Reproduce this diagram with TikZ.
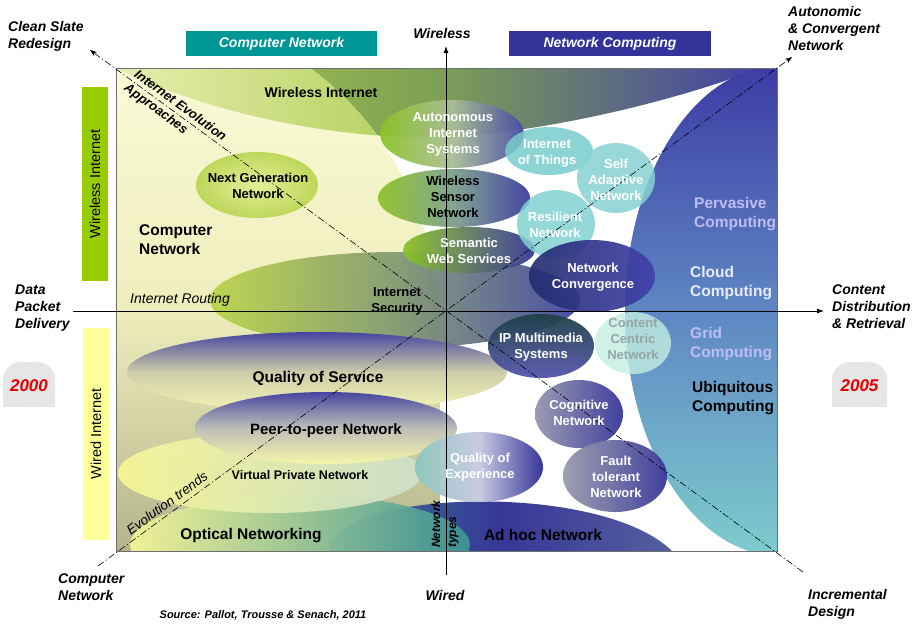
\documentclass[tikz,border=0pt]{standalone}
\usepackage{fontspec}
\setmainfont{Liberation Sans}
\usetikzlibrary{arrows.meta}
\definecolor{paleT}{RGB}{250,250,215}
\definecolor{paleM}{RGB}{238,238,188}
\definecolor{paleB}{RGB}{180,180,140}
\definecolor{bandL}{RGB}{175,205,75}
\definecolor{bandM}{RGB}{125,160,85}
\definecolor{bandR}{RGB}{65,65,165}
\definecolor{ltL}{RGB}{232,238,175}
\definecolor{ltR}{RGB}{175,205,85}
\definecolor{ubT}{RGB}{60,60,165}
\definecolor{ubM}{RGB}{95,135,195}
\definecolor{ubB}{RGB}{125,205,205}
\definecolor{gL}{RGB}{140,195,40}
\definecolor{bR}{RGB}{60,60,160}
\definecolor{tealb}{RGB}{120,205,205}
\definecolor{tealc}{RGB}{135,210,210}
\definecolor{teald}{RGB}{130,210,210}
\definecolor{mint}{RGB}{195,238,225}
\definecolor{cnteal}{RGB}{0,150,150}
\definecolor{ncblue}{RGB}{51,51,153}
\definecolor{wigreen}{RGB}{153,204,0}
\definecolor{wiyellow}{RGB}{255,255,153}
\definecolor{yrgrey}{RGB}{230,230,230}
\definecolor{yrred}{RGB}{230,0,0}
\definecolor{lav}{RGB}{190,190,245}
\definecolor{cloudc}{RGB}{232,236,252}
\definecolor{ccntxt}{RGB}{150,165,165}
\definecolor{framec}{RGB}{110,110,110}
\begin{document}
\begin{tikzpicture}[x=1pt,y=-1pt,
  axl/.style={font=\fontsize{14}{17}\selectfont\bfseries\itshape, align=left, inner sep=0pt},
  btx/.style={font=\fontsize{13}{16}\selectfont\bfseries, align=center, inner sep=0pt, text=white},
  bigt/.style={font=\fontsize{15.5}{18}\selectfont\bfseries, inner sep=0pt, anchor=base},
  rgt/.style={font=\fontsize{15.5}{19}\selectfont\bfseries, align=left, inner sep=0pt, anchor=north west},
  diagl/.style={black, line width=0.6pt, dash pattern=on 7pt off 2.5pt on 1.2pt off 2.5pt},
  axisl/.style={black, line width=0.8pt},
  tip/.style={-{Latex[length=7pt,width=5pt]}},
  dtip/.style={-{Stealth[length=7pt,width=5pt]}},
  topbox/.style={text=white, font=\fontsize{14}{16}\selectfont\bfseries\itshape, minimum height=25pt, inner sep=0pt},
  barbox/.style={rotate=90, font=\fontsize{14.5}{16}\selectfont, minimum height=26pt, inner sep=0pt},
  yr/.style={text=yrred, font=\fontsize{17}{19}\selectfont\bfseries\itshape, anchor=base}
]
\useasboundingbox (0,0) rectangle (919,625);
\fill[white] (0,0) rectangle (919,625);

% ---------- background regions ----------
\fill[white] (116,68) rectangle (777,551);
\begin{scope}
  \clip (310,68) .. controls (380,120) and (430,200) .. (440,311) -- (777,311) -- (777,68) -- cycle;
  \shade[left color=bandL, right color=bandR, middle color=bandM]
    (116,68) .. controls (200,110) and (330,140) .. (440,137) .. controls (540,134) and (680,100) .. (760,68) -- cycle;
\end{scope}
\shade[top color=paleT, bottom color=paleB, middle color=paleM]
  (116,68) -- (310,68) .. controls (380,120) and (430,200) .. (440,311) -- (440,551) -- (116,551) -- cycle;
\begin{scope}
  \clip (116,68) -- (310,68) .. controls (380,120) and (430,200) .. (440,311) -- (116,311) -- cycle;
  \shade[left color=ltL, right color=ltR, middle color=ltR]
    (116,68) .. controls (200,110) and (330,140) .. (440,137) .. controls (540,134) and (680,100) .. (760,68) -- cycle;
\end{scope}
\begin{scope}
  \clip (116,68) rectangle (777,551);
  \shade[top color=ubT, bottom color=ubB, middle color=ubM] (780,311) ellipse [x radius=155pt, y radius=245pt];
\end{scope}

% ---------- large ellipses ----------
\shade[left color={rgb,255:red,185;green,210;blue,70}, right color={rgb,255:red,55;green,60;blue,155}, middle color={rgb,255:red,125;green,150;blue,110}, opacity=0.9]
  (395,300) ellipse [x radius=185pt, y radius=48pt];
\shade[top color={rgb,255:red,70;green,70;blue,160}, bottom color={rgb,255:red,245;green,245;blue,180}, middle color={rgb,255:red,205;green,205;blue,170}]
  (317,372) ellipse [x radius=190pt, y radius=40pt];
\begin{scope}
  \clip (116,68) rectangle (777,551);
  \shade[left color={rgb,255:red,60;green,120;blue,150}, right color={rgb,255:red,85;green,95;blue,160}, middle color={rgb,255:red,55;green,55;blue,150}]
    (330,551) .. controls (330,490) and (600,480) .. (672,551) -- cycle;
  \shade[left color={rgb,255:red,245;green,245;blue,150}, right color={rgb,255:red,60;green,150;blue,150}, opacity=0.92]
    (300,545) ellipse [x radius=170pt, y radius=50pt];
\end{scope}
\shade[left color={rgb,255:red,248;green,248;blue,150}, right color={rgb,255:red,205;green,225;blue,205}, opacity=0.9]
  (270,473) ellipse [x radius=152pt, y radius=40pt];
\shade[top color={rgb,255:red,70;green,70;blue,160}, bottom color={rgb,255:red,245;green,245;blue,170}, middle color={rgb,255:red,190;green,190;blue,185}]
  (326,428) ellipse [x radius=131pt, y radius=36pt];
\shade[left color={rgb,255:red,140;green,200;blue,190}, right color={rgb,255:red,45;green,45;blue,150}, middle color={rgb,255:red,200;green,200;blue,225}, opacity=0.95]
  (479,467) ellipse [x radius=64pt, y radius=35pt];

% ---------- bubbles ----------
\shade[inner color={rgb,255:red,228;green,238;blue,150}, outer color={rgb,255:red,190;green,215;blue,90}]
  (257,185) ellipse [x radius=61pt, y radius=33pt];
\shade[left color=gL, right color={rgb,255:red,70;green,75;blue,165}, middle color={rgb,255:red,170;green,190;blue,150}, opacity=0.95]
  (452,134) ellipse [x radius=72pt, y radius=34pt];
\shade[left color=gL, right color=bR, middle color={rgb,255:red,125;green,160;blue,140}, opacity=0.95]
  (454,198) ellipse [x radius=76pt, y radius=29pt];
\shade[left color=gL, right color={rgb,255:red,55;green,55;blue,155}, opacity=0.95]
  (469,250) ellipse [x radius=66pt, y radius=23pt];
\fill[fill=tealb, opacity=0.85] (549,151) ellipse [x radius=44pt, y radius=24pt];
\fill[fill=tealc, opacity=0.85] (616,178) ellipse [x radius=39pt, y radius=35pt];
\fill[fill=teald, opacity=0.85] (556,224) ellipse [x radius=39pt, y radius=34pt];
\shade[left color={rgb,255:red,35;green,45;blue,110}, right color={rgb,255:red,65;green,65;blue,170}, opacity=0.92]
  (592,276) ellipse [x radius=63pt, y radius=36pt];
\shade[top color={rgb,255:red,30;green,65;blue,70}, bottom color={rgb,255:red,85;green,85;blue,175}, opacity=0.95]
  (541,346) ellipse [x radius=53pt, y radius=32pt];
\fill[fill=mint, opacity=0.8] (633,343) ellipse [x radius=38pt, y radius=31pt];
\shade[left color={rgb,255:red,150;green,150;blue,175}, right color={rgb,255:red,55;green,55;blue,155}, opacity=0.95]
  (579,414) ellipse [x radius=44pt, y radius=34pt];
\shade[left color={rgb,255:red,155;green,155;blue,172}, right color={rgb,255:red,55;green,55;blue,155}, opacity=0.95]
  (615,476) ellipse [x radius=52pt, y radius=36pt];

% ---------- frame ----------
\draw[framec, line width=0.7pt] (116,68) rectangle (777,551);

% ---------- axes and diagonals ----------
\coordinate (xl) at (73,311);
\coordinate (xr) at (824,311);
\coordinate (yt) at (446,46);
\coordinate (yb) at (446,575);
\coordinate (csr) at (90,50);
\coordinate (incd) at (803,572);
\coordinate (cnw) at (98,566);
\coordinate (acn) at (792,57);
\draw[axisl, tip] (xl) -- (xr);
\draw[axisl, tip] (yb) -- (yt);
\draw[diagl, dtip] (incd) -- (csr);
\draw[diagl, dtip] (cnw) -- (acn);

% ---------- top boxes and side bars ----------
\node[topbox, fill=cnteal, minimum width=191pt] (cnbox) at (281.5,43.5) {Computer Network};
\node[topbox, fill=ncblue, minimum width=202pt] (ncbox) at (610,43.5) {Network Computing};
\node[barbox, fill=wigreen, minimum width=194pt] (wibar) at (95,184) {Wireless Internet};
\node[barbox, fill=wiyellow, minimum width=212pt] (wdbar) at (96,434) {Wired Internet};

% year tags
\fill[yrgrey, rounded corners=18pt] (3,362) rectangle (55,407);
\fill[yrgrey] (3,385) rectangle (55,407);
\fill[yrgrey, rounded corners=18pt] (832,362) rectangle (887,407);
\fill[yrgrey] (832,385) rectangle (887,407);
\node[yr] (y2000) at (29,391) {2000};
\node[yr] (y2005) at (859.5,391) {2005};

% ---------- axis labels ----------
\node[axl, anchor=north west] (cleanslate) at (8,21.5) {Clean Slate\\Redesign};
\node[axl, anchor=base] (wirelessax) at (442,38) {Wireless};
\node[axl, anchor=north west] (autonomic) at (788,6.5) {Autonomic\\\& Convergent\\Network};
\node[axl, anchor=north west] (datapkt) at (15,285) {Data\\Packet\\Delivery};
\node[axl, anchor=north west] (contentax) at (832,285) {Content\\Distribution\\\& Retrieval};
\node[axl, anchor=north west] (compnetax) at (58,573.5) {Computer\\Network};
\node[axl, anchor=base] (wiredax) at (445,600) {Wired};
\node[axl, anchor=north west] (incr) at (808,589.5) {Incremental\\Design};
\node[font=\fontsize{11}{13}\selectfont\bfseries\itshape, anchor=base, inner sep=0pt] (source) at (263,618) {Source: Pallot, Trousse \& Senach, 2011};

% ---------- region texts ----------
\node[font=\fontsize{14}{16}\selectfont\bfseries, anchor=base, inner sep=0pt] (wirint) at (321,97) {Wireless Internet};
\node[rgt] (compnet) at (139,224) {Computer\\Network};
\node[font=\fontsize{14}{16}\selectfont\itshape, anchor=base west, inner sep=0pt] (routing) at (130,303) {Internet Routing};
\node[font=\fontsize{13}{16}\selectfont\bfseries, align=center, inner sep=0pt] (security) at (397,301) {Internet\\Security};
\node[bigt] (qos) at (318,382) {Quality of Service};
\node[font=\fontsize{15}{18}\selectfont\bfseries, inner sep=0pt, anchor=base] (p2p) at (326,434) {Peer-to-peer Network};
\node[font=\fontsize{12.5}{15}\selectfont\bfseries, inner sep=0pt, anchor=base] (vpn) at (300,479) {Virtual Private Network};
\node[bigt] (optical) at (251,539) {Optical Networking};
\node[bigt] (adhoc) at (543,540) {Ad hoc Network};
\node[rgt, text=lav] (pervasive) at (694,197) {Pervasive\\Computing};
\node[rgt, text=cloudc] (cloud) at (690,266) {Cloud\\Computing};
\node[rgt, text=lav] (grid) at (690,327) {Grid\\Computing};
\node[rgt] (ubiq) at (692,381) {Ubiquitous\\Computing};

% ---------- bubble texts ----------
\node[btx, text=black] (ngn) at (258,186) {Next Generation\\Network};
\node[btx] (ais) at (453,134) {Autonomous\\Internet\\Systems};
\node[btx, text=black] (wsn) at (453,197) {Wireless\\Sensor\\Network};
\node[btx] (sws) at (469,250.5) {Semantic\\Web Services};
\node[btx] (iot) at (547,153) {Internet\\of Things};
\node[btx] (sanet) at (616,179.5) {Self\\Adaptive\\Network};
\node[btx] (resil) at (555,225) {Resilient\\Network};
\node[btx] (netconv) at (593,277) {Network\\Convergence};
\node[btx] (ipms) at (541,347) {IP Multimedia\\Systems};
\node[btx, text=ccntxt] (ccn) at (633,339.5) {Content\\Centric\\Network};
\node[btx] (cogn) at (579,413) {Cognitive\\Network};
\node[btx] (fault) at (616,476.5) {Fault\\tolerant\\Network};
\node[btx] (qoe) at (480,467) {Quality of\\Experience};

% ---------- diagonal / rotated labels ----------
\node[font=\fontsize{13}{17}\selectfont\bfseries\itshape, align=left, inner sep=0pt, rotate=-36.2] (iea) at (175,113) {Internet Evolution\\Approaches};
\node[font=\fontsize{13.5}{16}\selectfont\itshape, inner sep=0pt, rotate=36.2] (evtr) at (167,503) {Evolution trends};
\node[font=\fontsize{12}{16}\selectfont\bfseries\itshape, align=left, inner sep=0pt, rotate=90] (ntypes) at (445,524) {Network\\types};
\end{tikzpicture}
\end{document}
